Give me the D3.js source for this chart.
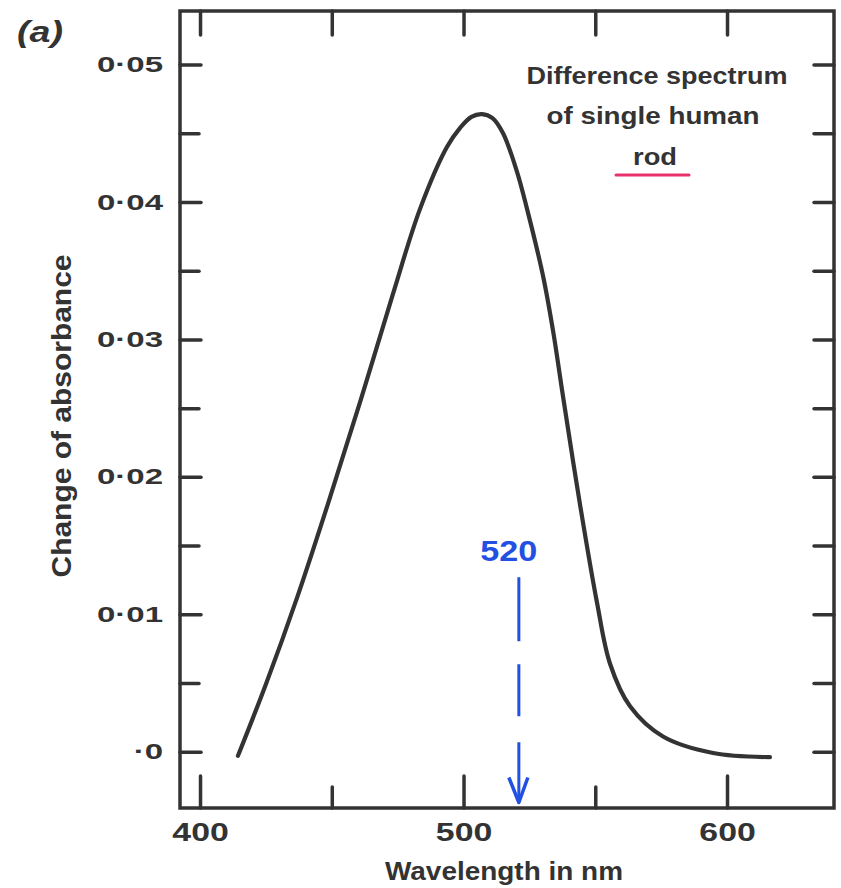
<!DOCTYPE html>
<html>
<head>
<meta charset="utf-8">
<script src="https://cdn.jsdelivr.net/npm/d3@7"></script>
<style>
  body { margin: 0; background: #fff; }
  svg { display: block; }
</style>
</head>
<body>
<div id="chart"></div>
<script>
'use strict'

// values
const wavelength = [414.4, 425, 437, 449, 461, 473.2, 483.5, 493.7, 498.7, 503, 507, 511, 515, 520.3, 524.1, 530.2, 534, 537.8, 544.2, 550.7, 555.6, 563.2, 575.7, 594.7, 616.3];
const absorbance = [-0.0003, 0.0049, 0.0113, 0.0183, 0.0256, 0.0333, 0.0395, 0.0440, 0.0454, 0.0462, 0.0464, 0.0461, 0.0450, 0.0422, 0.0395, 0.0346, 0.0306, 0.0258, 0.0180, 0.0108, 0.0064, 0.0033, 0.0011, -0.0001, -0.0004];

const xExtent = [392.4, 640.6];
const yExtent = [-0.0041, 0.0539];

const xMajor = [400, 500, 600];
const xLabels = ["400", "500", "600"];
const xMinor = [450, 550];
const xTop = [400, 450, 500, 550, 600];

const yMajor = [0, 0.01, 0.02, 0.03, 0.04, 0.05];
const yLabels = ["·0", "0·01", "0·02", "0·03", "0·04", "0·05"];
const yMinor = [0.005, 0.015, 0.025, 0.035, 0.045];

// the blue 520 marker
const markLambda = 521;
const markLabel = "520";
const markFrom = 0.0127, markTo = -0.0037;

const ink = "#333",
    font = "'Liberation Sans', Arial, sans-serif";

let svg = d3.select("#chart")
  .append("svg")
  .attr("width", 841)
  .attr("height", 888);

let margin = {top: 11, right: 7, bottom: 80, left: 180},
    width = +svg.attr("width") - margin.left - margin.right,
    height = +svg.attr("height") - margin.top - margin.bottom;

let x = d3.scaleLinear().domain(xExtent).range([0, width]),
    y = d3.scaleLinear().domain(yExtent).range([height, 0]);

let g = svg.append("g")
    .attr("transform", "translate(" + margin.left + "," + margin.top + ")");

function styleAxis(sel, size) {
  sel.select(".domain").remove();
  sel.attr("font-family", font)
    .attr("font-size", size)
    .attr("font-weight", "bold");
  sel.selectAll(".tick line")
    .attr("stroke", ink)
    .attr("stroke-width", 3.5)
    .attr("stroke-linecap", "round");
  sel.selectAll(".tick text").attr("fill", ink);
}

// widen the round stencil digits
function stretch(sel, k) {
  sel.selectAll(".tick text").each(function() {
    let t = d3.select(this);
    let tx = +t.attr("x") || 0, ty = +t.attr("y") || 0;
    t.attr("x", 0).attr("y", 0)
      .attr("transform", "translate(" + tx + "," + ty + ") scale(" + k + ",1)");
  });
}

// left
g.append("g")
  .call(d3.axisLeft(y).tickValues(yMajor).tickSize(-21).tickPadding(17)
    .tickFormat((d, i) => yLabels[i]))
  .call(styleAxis, 22)
  .call(stretch, 1.5);

g.append("g")
  .call(d3.axisLeft(y).tickValues(yMinor).tickSize(-19).tickFormat(""))
  .call(styleAxis, 22);

// right
g.append("g")
  .attr("transform", "translate(" + width + ",0)")
  .call(d3.axisLeft(y).tickValues(yMajor.concat(yMinor)).tickSize(20).tickFormat(""))
  .call(styleAxis, 22);

// bottom
g.append("g")
  .attr("transform", "translate(0," + height + ")")
  .call(d3.axisBottom(x).tickValues(xMajor).tickSize(-32).tickPadding(15)
    .tickFormat((d, i) => xLabels[i]))
  .call(styleAxis, 26)
  .call(stretch, 1.3);

g.append("g")
  .attr("transform", "translate(0," + height + ")")
  .call(d3.axisBottom(x).tickValues(xMinor).tickSize(-21).tickFormat(""))
  .call(styleAxis, 26);

// top
g.append("g")
  .call(d3.axisBottom(x).tickValues(xTop).tickSize(24).tickFormat(""))
  .call(styleAxis, 26);

g.append("rect")
  .attr("width", width)
  .attr("height", height)
  .attr("fill", "none")
  .attr("stroke", ink)
  .attr("stroke-width", 3.5);

let line = d3.line()
  .curve(d3.curveCatmullRom.alpha(0.5))
  .x(d => x(d[0]))
  .y(d => y(d[1]));

g.append("path")
  .datum(d3.zip(wavelength, absorbance))
  .attr("fill", "none")
  .attr("stroke", ink)
  .attr("stroke-width", 4.2)
  .attr("stroke-linecap", "round")
  .attr("d", line);

// 520 arrow
let blue = "#2150e2";
let mx = x(markLambda), tip = y(markTo);
g.append("line")
  .attr("x1", mx).attr("x2", mx)
  .attr("y1", y(markFrom)).attr("y2", tip)
  .attr("stroke", blue)
  .attr("stroke-width", 3)
  .attr("stroke-dasharray", "64,23,52,26,200");
g.append("path")
  .attr("d", "M" + (mx - 10) + "," + (tip - 25) + "L" + mx + "," + tip + "L" + (mx + 9) + "," + (tip - 25))
  .attr("fill", "none")
  .attr("stroke", blue)
  .attr("stroke-width", 3.5)
  .attr("stroke-linejoin", "round");
g.append("text")
  .attr("x", mx - 10)
  .attr("y", y(markFrom) - 16)
  .attr("text-anchor", "middle")
  .attr("font-family", font)
  .attr("font-weight", "bold")
  .attr("font-size", 30)
  .attr("fill", blue)
  .attr("textLength", 57)
  .attr("lengthAdjust", "spacingAndGlyphs")
  .text(markLabel);

// texts
function label(txt, px, py, size, len) {
  return svg.append("text")
    .attr("x", px)
    .attr("y", py)
    .attr("text-anchor", "middle")
    .attr("font-family", font)
    .attr("font-weight", "bold")
    .attr("font-size", size)
    .attr("fill", ink)
    .attr("textLength", len)
    .attr("lengthAdjust", "spacingAndGlyphs")
    .text(txt);
}

label("Difference spectrum", 657, 84, 24, 261);
label("of single human", 653, 124, 24, 213);
label("rod", 655, 165, 24, 44);
svg.append("line")
  .attr("x1", 616).attr("x2", 689)
  .attr("y1", 175).attr("y2", 175)
  .attr("stroke", "#e8336d")
  .attr("stroke-width", 3)
  .attr("stroke-linecap", "round");

label("Wavelength in nm", 504, 880, 25, 238);
label("Change of absorbance", 0, 0, 28, 323)
  .attr("transform", "translate(71,416) rotate(-90)");
label("(a)", 40, 42, 30, 46)
  .attr("font-style", "italic");
</script>
</body>
</html>
